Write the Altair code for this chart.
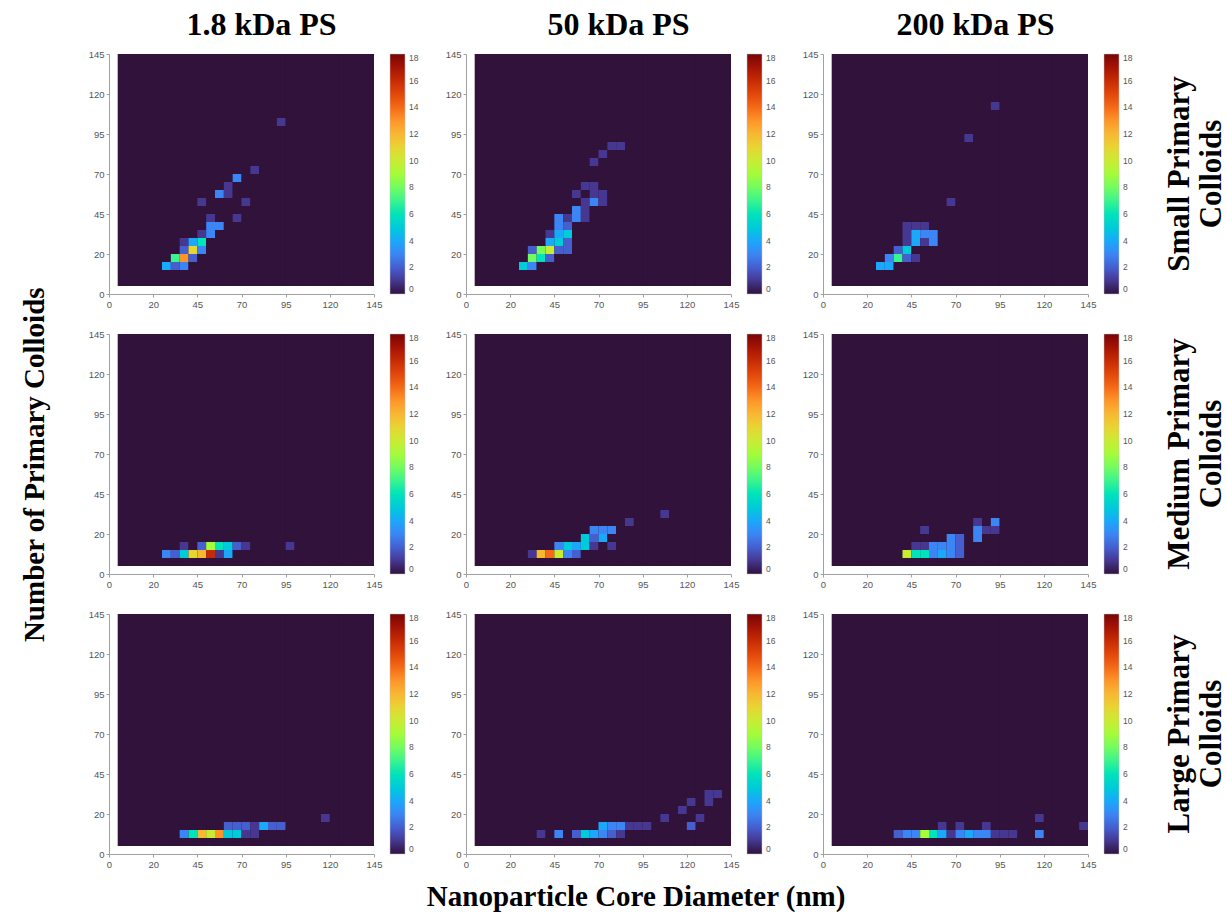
import json

import altair as alt
import pandas as pd

SERIF = "Liberation Serif"
SANS = "Liberation Sans"

# Histogram grid: 29 x 29 bins, bin i spans [i, i + 1] on both axes
N_BINS = 29
AXIS_MAX = 30
TICK_POS = [0, 5, 10, 15, 20, 25, 30]
TICK_LABELS = ["0", "20", "45", "70", "95", "120", "145"]
CBAR_TICKS = [0, 2, 4, 6, 8, 10, 12, 14, 16, 18]
COUNT_MAX = 18

# Turbo colormap, 15 evenly spaced stops
TURBO = [
    "#30123b", "#4145ab", "#4675ed", "#39a2fc", "#1bcfd4", "#24eca6", "#61fc6c", "#a4fc3b",
    "#d1e834", "#f3c63a", "#fe9b2d", "#f36315", "#d93806", "#b11901", "#7a0403",
]

POLYMERS = ["1.8 kDa PS", "50 kDa PS", "200 kDa PS"]
COLLOID_CLASSES = ["Small Primary\nColloids", "Medium Primary\nColloids", "Large Primary\nColloids"]

# Non-empty bins as (diameter bin, colloid-count bin, count)
SMALL_1K8 = [
    (6, 3, 4), (7, 3, 2), (8, 3, 3),
    (7, 4, 7), (8, 4, 13), (9, 4, 2),
    (8, 5, 2), (9, 5, 11), (10, 5, 3),
    (8, 6, 1), (9, 6, 4), (10, 6, 6),
    (10, 7, 1), (11, 7, 3),
    (11, 8, 3), (12, 8, 3),
    (11, 9, 1), (14, 9, 1),
    (10, 11, 1), (15, 11, 1),
    (12, 12, 3), (13, 12, 1),
    (13, 13, 1),
    (14, 14, 3),
    (16, 15, 1),
    (19, 21, 1),
]
SMALL_50K = [
    (6, 3, 5), (7, 3, 3),
    (7, 4, 8), (8, 4, 6), (9, 4, 2),
    (7, 5, 2), (8, 5, 8), (9, 5, 10), (10, 5, 2), (11, 5, 2),
    (9, 6, 4), (10, 6, 5), (11, 6, 2),
    (9, 7, 1), (10, 7, 4), (11, 7, 5),
    (10, 8, 3), (11, 8, 2),
    (10, 9, 3), (11, 9, 1), (12, 9, 3), (13, 9, 1),
    (12, 10, 3), (13, 10, 1),
    (13, 11, 1), (14, 11, 3), (15, 11, 1),
    (12, 12, 1), (14, 12, 1), (15, 12, 1),
    (13, 13, 1), (14, 13, 1),
    (14, 16, 1),
    (15, 17, 1),
    (16, 18, 1), (17, 18, 1),
]
SMALL_200K = [
    (6, 3, 4), (7, 3, 4),
    (7, 4, 3), (8, 4, 7), (9, 4, 2), (10, 4, 1),
    (8, 5, 2), (9, 5, 5),
    (9, 6, 1), (10, 6, 4), (11, 6, 1), (12, 6, 3),
    (9, 7, 1), (10, 7, 4), (11, 7, 3), (12, 7, 3),
    (9, 8, 1), (10, 8, 1), (11, 8, 1),
    (14, 11, 1),
    (16, 19, 1),
    (19, 23, 1),
]
MEDIUM_1K8 = [
    (6, 2, 3), (7, 2, 2), (8, 2, 5), (9, 2, 11), (10, 2, 12), (11, 2, 16), (12, 2, 1), (13, 2, 4),
    (8, 3, 1), (10, 3, 2), (11, 3, 9), (12, 3, 6), (13, 3, 5), (14, 3, 2), (15, 3, 1), (20, 3, 1),
]
MEDIUM_50K = [
    (7, 2, 1), (8, 2, 12), (9, 2, 14), (10, 2, 10), (11, 2, 3), (12, 2, 2),
    (10, 3, 3), (11, 3, 5), (12, 3, 4), (13, 3, 5), (14, 3, 1), (16, 3, 1),
    (13, 4, 5), (14, 4, 2), (15, 4, 4),
    (14, 5, 3), (15, 5, 3), (16, 5, 3),
    (18, 6, 1),
    (22, 7, 1),
]
MEDIUM_200K = [
    (9, 2, 10), (10, 2, 6), (11, 2, 6), (12, 2, 3), (13, 2, 4), (14, 2, 3), (15, 2, 2),
    (10, 3, 1), (11, 3, 1), (12, 3, 3), (13, 3, 3), (14, 3, 3), (15, 3, 2),
    (14, 4, 3), (15, 4, 2), (17, 4, 3),
    (11, 5, 1), (17, 5, 3), (18, 5, 1), (19, 5, 1),
    (17, 6, 1), (19, 6, 3),
]
LARGE_1K8 = [
    (8, 2, 3), (9, 2, 6), (10, 2, 12), (11, 2, 10), (12, 2, 13), (13, 2, 5), (14, 2, 5), (15, 2, 1), (16, 2, 1),
    (13, 3, 2), (14, 3, 2), (15, 3, 2), (16, 3, 1), (17, 3, 4), (18, 3, 2), (19, 3, 2),
    (24, 4, 1),
]
LARGE_50K = [
    (8, 2, 1), (10, 2, 3), (12, 2, 2), (13, 2, 5), (14, 2, 4), (15, 2, 3), (16, 2, 2), (17, 2, 1),
    (15, 3, 4), (16, 3, 3), (17, 3, 3), (18, 3, 1), (19, 3, 1), (20, 3, 1), (25, 3, 2),
    (22, 4, 1), (26, 4, 1),
    (24, 5, 1),
    (25, 6, 1), (27, 6, 1),
    (27, 7, 1), (28, 7, 1),
]
LARGE_200K = [
    (8, 2, 2), (9, 2, 3), (10, 2, 3), (11, 2, 9), (12, 2, 6), (13, 2, 4), (14, 2, 1), (15, 2, 3),
    (16, 2, 4), (17, 2, 3), (18, 2, 3), (19, 2, 1), (20, 2, 1), (21, 2, 1), (24, 2, 3),
    (13, 3, 1), (15, 3, 1), (18, 3, 1), (29, 3, 1),
    (24, 4, 1),
]

PANELS = [
    [SMALL_1K8, SMALL_50K, SMALL_200K],
    [MEDIUM_1K8, MEDIUM_50K, MEDIUM_200K],
    [LARGE_1K8, LARGE_50K, LARGE_200K],
]

PLOT_W, PLOT_H = 265, 240

label_expr = f"{json.dumps(TICK_LABELS)}[round(datum.value / 5)]"
turbo_domain = [COUNT_MAX * i / (len(TURBO) - 1) for i in range(len(TURBO))]


def hist_frame(cells):
    counts = {(c, r): 0 for c in range(1, N_BINS + 1) for r in range(1, N_BINS + 1)}
    for c, r, n in cells:
        counts[(c, r)] = n
    return pd.DataFrame(
        [{"d": c, "d2": c + 1, "k": r, "k2": r + 1, "n": n} for (c, r), n in counts.items()]
    )


def extent_frame():
    # whole histogram extent, drawn underneath the bins at count 0
    return pd.DataFrame([{"d": 1, "d2": N_BINS + 1, "k": 1, "k2": N_BINS + 1, "n": 0}])


def axis():
    return alt.Axis(
        values=TICK_POS,
        labelExpr=label_expr,
        title=None,
        grid=False,
        domainColor="#a0a0a0",
        tickColor="#a0a0a0",
        tickSize=3,
        labelFont=SANS,
        labelFontSize=9.5,
        labelColor="#555555",
        labelPadding=2,
        labelFlush=False,
    )


def panel(cells, title=None):
    cscale = alt.Scale(domain=turbo_domain, range=TURBO, nice=False, zero=False)
    legend = alt.Legend(
        title=None,
        type="gradient",
        orient="right",
        direction="vertical",
        gradientLength=PLOT_H,
        gradientThickness=15,
        gradientStrokeColor="#c0c0c0",
        gradientStrokeWidth=0.5,
        values=CBAR_TICKS,
        labelFont=SANS,
        labelFontSize=8.5,
        labelColor="#555555",
        labelOffset=4,
        labelBaseline="middle",
        labelOverlap=False,
        offset=16,
        padding=0,
    )
    enc = dict(
        x=alt.X("d:Q", scale=alt.Scale(domain=[0, AXIS_MAX], nice=False, zero=False), axis=axis()),
        x2="d2:Q",
        y=alt.Y("k:Q", scale=alt.Scale(domain=[0, AXIS_MAX], nice=False, zero=False), axis=axis()),
        y2="k2:Q",
        color=alt.Color("n:Q", scale=cscale, legend=legend),
    )
    base = alt.Chart(extent_frame()).mark_rect().encode(**enc)
    bins = alt.Chart(hist_frame(cells)).mark_rect().encode(**enc)
    ch = alt.layer(base, bins).properties(width=PLOT_W, height=PLOT_H)
    if title:
        ch = ch.properties(
            title=alt.TitleParams(
                title, font=SERIF, fontSize=32, fontWeight="bold", color="black",
                offset=7, frame="group", anchor="middle", dx=20,
            )
        )
    return ch


def row_label(text):
    # first line sits at the anchor, the second one follows to its right
    return (
        alt.Chart(pd.DataFrame({"label": [text]}))
        .mark_text(
            angle=270, font=SERIF, fontSize=31, fontWeight="bold", color="black",
            align="center", baseline="middle", lineBreak="\n", lineHeight=32,
        )
        .encode(text="label:N", x=alt.value(21), y=alt.value(PLOT_H / 2))
        .properties(width=64, height=PLOT_H)
    )


rows = []
for i, row_cells in enumerate(PANELS):
    charts = [
        panel(cells, POLYMERS[j] if i == 0 else None) for j, cells in enumerate(row_cells)
    ]
    charts.append(row_label(COLLOID_CLASSES[i]))
    rows.append(alt.hconcat(*charts, spacing=26).resolve_scale(color="independent"))

grid = alt.vconcat(*rows, spacing=20).properties(
    title=alt.TitleParams(
        "Number of Primary Colloids", orient="left", anchor="middle",
        font=SERIF, fontSize=29, fontWeight="bold", color="black", offset=38, dx=-26,
    )
)

chart = (
    alt.vconcat(grid)
    .properties(
        title=alt.TitleParams(
            "Nanoparticle Core Diameter (nm)", orient="bottom", anchor="middle",
            font=SERIF, fontSize=29, fontWeight="bold", color="black", offset=14, dx=12,
        ),
        padding={"left": 21, "top": 9, "right": 0, "bottom": 0},
        background="white",
    )
    .configure_view(stroke=None)
)

chart.save("out.html", embed_options={"renderer": "svg", "actions": False})
